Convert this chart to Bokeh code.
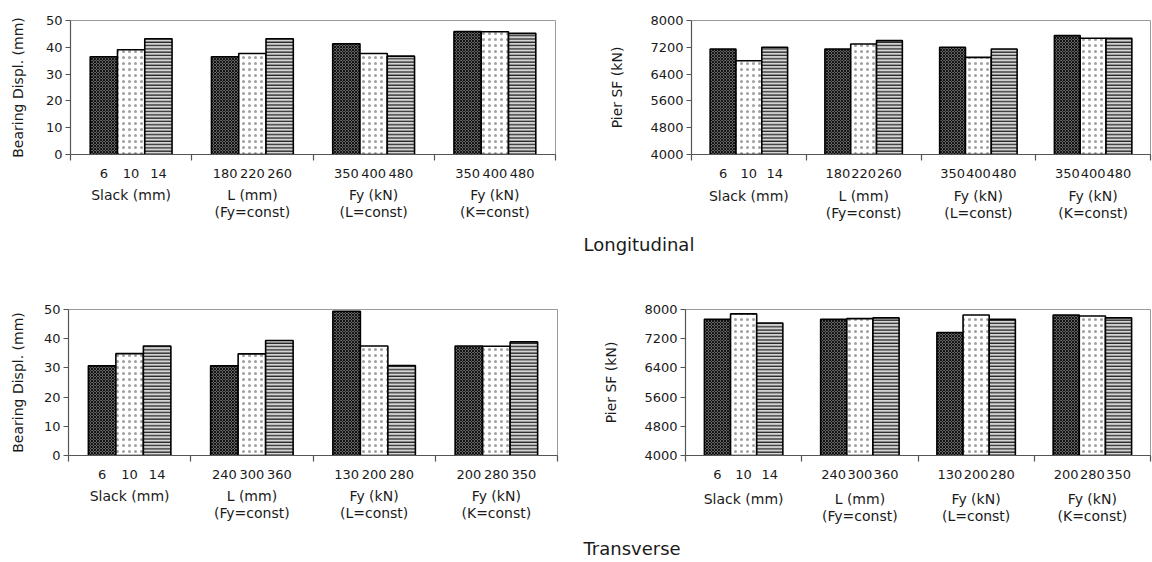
from bokeh.plotting import figure
from bokeh.layouts import column, row
from bokeh.models import FixedTicker, LinearAxis, Range1d, Label
from bokeh.embed import file_html
from bokeh.resources import INLINE

FONT = "DejaVu Sans"
TXT = "#1a1a1a"

# ---------------- data ----------------
long_groups = ["Slack (mm)", "L (mm)\n(Fy=const)", "Fy (kN)\n(L=const)", "Fy (kN)\n(K=const)"]
long_levels = [["6", "10", "14"], ["180", "220", "260"], ["350", "400", "480"], ["350", "400", "480"]]
long_disp = [[36.5, 39.1, 43.2], [36.5, 37.7, 43.2], [41.3, 37.7, 36.7], [45.9, 45.8, 45.2]]
long_sf = [[7150, 6800, 7200], [7150, 7300, 7400], [7200, 6900, 7150], [7550, 7470, 7470]]

trans_groups = ["Slack (mm)", "L (mm)\n(Fy=const)", "Fy (kN)\n(L=const)", "Fy (kN)\n(K=const)"]
trans_levels = [["6", "10", "14"], ["240", "300", "360"], ["130", "200", "280"], ["200", "280", "350"]]
trans_disp = [[30.7, 34.9, 37.5], [30.7, 34.8, 39.4], [49.4, 37.5, 30.8], [37.5, 37.4, 38.9]]
trans_sf = [[7730, 7880, 7630], [7730, 7750, 7770], [7370, 7850, 7730], [7850, 7820, 7770]]

disp_ticks = [0, 10, 20, 30, 40, 50]
sf_ticks = [4000, 4800, 5600, 6400, 7200, 8000]

BW = 0.225
STYLES = [
    dict(fill_color="#8a8a8a", hatch_pattern="diagonal_cross", hatch_color="#111111",
         hatch_scale=3, hatch_weight=1.2),
    dict(fill_color="white", hatch_pattern="dot", hatch_color="#a0a0a0",
         hatch_scale=6, hatch_weight=0.8),
    dict(fill_color="#d4d4d4", hatch_pattern="horizontal_line", hatch_color="#1a1a1a",
         hatch_scale=3.3, hatch_weight=1.2),
]


def make_chart(values, levels, groups, ylabel, yticks, width, height,
               left, right, top, bottom, ylab_standoff, group_standoff):
    ng = len(values)
    p = figure(width=width, height=height, x_range=Range1d(0, ng),
               y_range=Range1d(yticks[0], yticks[-1]),
               output_backend="svg", toolbar_location=None,
               min_border_left=left, min_border_right=right,
               min_border_top=top, min_border_bottom=bottom)
    p.grid.visible = False
    p.outline_line_color = "#9a9a9a"
    p.outline_line_width = 1
    p.background_fill_color = "white"
    p.border_fill_color = "white"

    centers, labels = [], {}
    for k in range(3):
        xs = [g + 0.5 + (k - 1) * BW for g in range(ng)]
        tops = [values[g][k] for g in range(ng)]
        p.vbar(x=xs, top=tops, bottom=yticks[0], width=BW,
               line_color="black", line_width=1.6, **STYLES[k])
        for g in range(ng):
            centers.append(xs[g])
            labels[xs[g]] = levels[g][k]
    centers.sort()

    xa = p.xaxis[0]
    xa.ticker = FixedTicker(ticks=centers, minor_ticks=list(range(ng + 1)))
    xa.major_label_overrides = labels
    xa.major_tick_out = 0
    xa.major_tick_in = 0
    xa.minor_tick_out = 6
    xa.minor_tick_in = 0
    xa.minor_tick_line_color = "#555555"
    xa.minor_tick_line_width = 1.2
    xa.axis_line_color = "#555555"
    xa.axis_line_width = 1.2
    xa.major_label_standoff = 8
    xa.major_label_text_font = FONT
    xa.major_label_text_font_size = "13px"
    xa.major_label_text_color = TXT

    gpos = [g + 0.5 for g in range(ng)]
    ga = LinearAxis(ticker=FixedTicker(ticks=gpos, minor_ticks=[]),
                    major_label_overrides={gpos[g]: groups[g] for g in range(ng)})
    ga.axis_line_color = None
    ga.major_tick_line_color = None
    ga.minor_tick_line_color = None
    ga.major_label_standoff = group_standoff
    ga.major_label_text_font = FONT
    ga.major_label_text_font_size = "14px"
    ga.major_label_text_line_height = 1.12
    ga.major_label_text_color = TXT
    p.add_layout(ga, "below")

    ya = p.yaxis[0]
    ya.ticker = FixedTicker(ticks=yticks, minor_ticks=[])
    ya.major_tick_out = 5
    ya.major_tick_in = 0
    ya.major_tick_line_color = "#555555"
    ya.major_tick_line_width = 1.2
    ya.axis_line_color = "#555555"
    ya.axis_line_width = 1.2
    ya.major_label_standoff = 3
    ya.major_label_text_font = FONT
    ya.major_label_text_font_size = "13px"
    ya.major_label_text_color = TXT
    ya.axis_label = ylabel
    ya.axis_label_text_font = FONT
    ya.axis_label_text_font_size = "14px"
    ya.axis_label_text_font_style = "normal"
    ya.axis_label_text_color = TXT
    ya.axis_label_standoff = ylab_standoff
    return p


def make_strip(text, height, ypos):
    s = figure(width=1152, height=height, x_range=Range1d(0, 1152), y_range=Range1d(0, height),
               output_backend="svg", toolbar_location=None,
               min_border_left=0, min_border_right=0, min_border_top=0, min_border_bottom=0)
    s.axis.visible = False
    s.grid.visible = False
    s.outline_line_color = None
    s.add_layout(Label(x=583, y=ypos, text=text, text_font=FONT, text_font_size="18px",
                       text_color=TXT, text_align="left", text_baseline="middle"))
    return s


tl = make_chart(long_disp, long_levels, long_groups, "Bearing Displ. (mm)", disp_ticks,
                576, 228, 70, 21, 16, 74, 17, 0)
tr = make_chart(long_sf, long_levels, long_groups, "Pier SF (kN)", sf_ticks,
                576, 228, 115, 2, 20, 74, 22, 1)
bl = make_chart(trans_disp, trans_levels, trans_groups, "Bearing Displ. (mm)", disp_ticks,
                576, 262, 68, 19, 41, 75, 15, 0)
br = make_chart(trans_sf, trans_levels, trans_groups, "Pier SF (kN)", sf_ticks,
                576, 262, 109, 2, 41, 73, 22, 3)

s1 = make_strip("Longitudinal", 40, 24)
s2 = make_strip("Transverse", 32, 14)

layout = column(row(tl, tr), s1, row(bl, br), s2)
open("out.html", "w").write(file_html(layout, INLINE))
